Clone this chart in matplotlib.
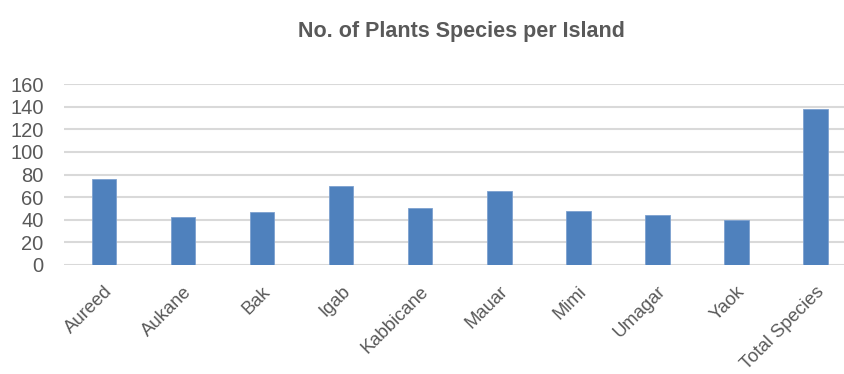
import matplotlib
matplotlib.use("Agg")
import matplotlib.pyplot as plt
from matplotlib import font_manager

islands = ["Aureed", "Aukane", "Bak", "Igab", "Kabbicane", "Mauar", "Mimi",
           "Umagar", "Yaok", "Total Species"]
species_counts = [76, 42, 47, 70, 50, 65, 48, 44, 40, 138]
y_ticks = [0, 20, 40, 60, 80, 100, 120, 140, 160]

names = {f.name for f in font_manager.fontManager.ttflist}
family = "Liberation Sans Narrow" if "Liberation Sans Narrow" in names else "Liberation Sans"
plt.rcParams["font.family"] = [family, "DejaVu Sans"]

fig = plt.figure(figsize=(8.45, 3.74), dpi=100)
ax = fig.add_axes([64.5 / 845, 109 / 374, 790.5 / 845, 181 / 374])

x = range(len(islands))
ax.bar(x, species_counts, width=0.31, color="#4f81bd", edgecolor="#7da1cf",
       linewidth=0.6, zorder=3)

ax.set_xlim(-0.5, len(islands) - 0.5)
ax.set_ylim(0, 160)
ax.set_yticks(y_ticks)
ax.set_yticklabels([str(v) for v in y_ticks], fontsize=14.5, color="#595959")
ax.set_xticks(list(x))
ax.set_xticklabels(islands, rotation=45, ha="right", rotation_mode="anchor",
                   fontsize=13.3, color="#595959")
ax.tick_params(axis="both", length=0)
ax.tick_params(axis="y", pad=15)
ax.tick_params(axis="x", pad=13)

ax.grid(axis="y", color="#d9d9d9", linewidth=1.5, zorder=0)
for s in ax.spines.values():
    s.set_visible(False)

fig.text(461 / 845, 1 - 31 / 374, "No. of Plants Species per Island",
         ha="center", va="center", fontsize=15.5, fontweight="bold",
         color="#595959")

fig.savefig("out.png", dpi=100)
